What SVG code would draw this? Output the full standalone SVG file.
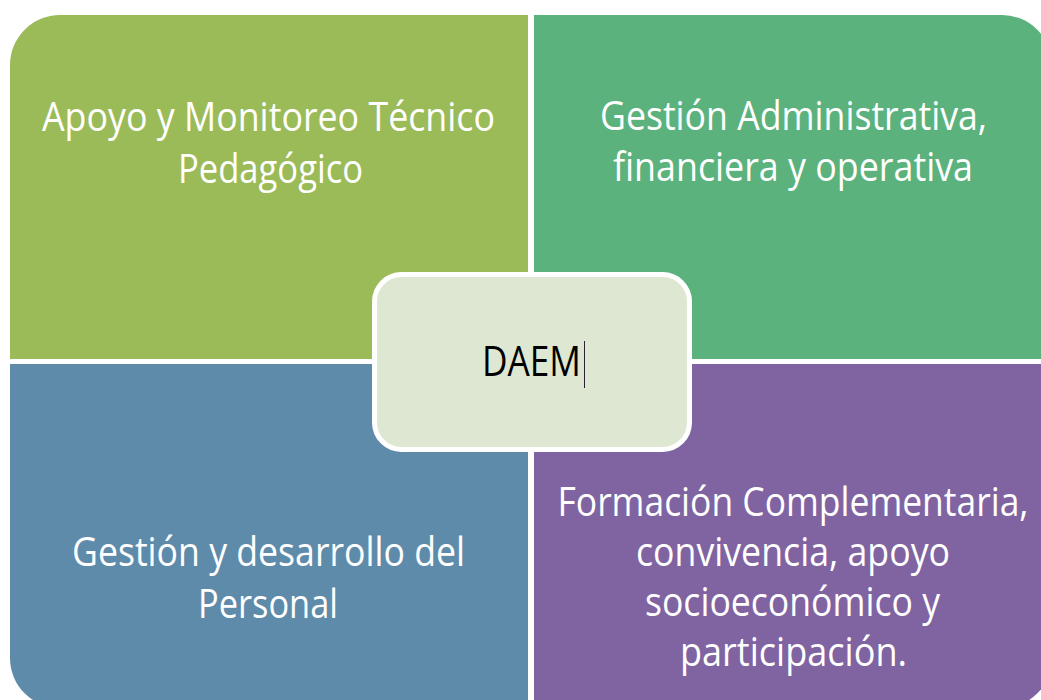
<svg xmlns="http://www.w3.org/2000/svg" width="1041" height="700" viewBox="0 0 1041 700">
  <style>
    .q { stroke: none; }
    .lbl { font-family: "Open Sans", "Noto Sans", "Liberation Sans", sans-serif; font-size: 40px; fill: #ffffff; text-anchor: middle; }
    .center-lbl { font-family: "Open Sans", "Noto Sans", "Liberation Sans", sans-serif; font-size: 42px; fill: #000000; text-anchor: middle; }
  </style>
  <rect x="0" y="0" width="1041" height="700" fill="#ffffff"/>
  <g id="node-apoyo">
    <path class="q" d="M10,65 A50,50 0 0 1 60,15 H528 V359 H10 Z" fill="#9BBB59"/>
    <text class="lbl" x="268.5" y="131" textLength="453" lengthAdjust="spacingAndGlyphs">Apoyo y Monitoreo Técnico</text>
    <text class="lbl" x="270.5" y="183" textLength="185" lengthAdjust="spacingAndGlyphs">Pedagógico</text>
  </g>
  <g id="node-gestion-admin">
    <path class="q" d="M534,15 H1002 A50,50 0 0 1 1052,65 V359 H534 Z" fill="#5BB27D"/>
    <text class="lbl" x="793.5" y="130" textLength="387" lengthAdjust="spacingAndGlyphs">Gestión Administrativa,</text>
    <text class="lbl" x="793" y="181" textLength="360" lengthAdjust="spacingAndGlyphs">financiera y operativa</text>
  </g>
  <g id="node-gestion-personal">
    <path class="q" d="M10,364 H528 V708 H60 A50,50 0 0 1 10,658 Z" fill="#5F8BAB"/>
    <text class="lbl" x="268.5" y="566" textLength="393" lengthAdjust="spacingAndGlyphs">Gestión y desarrollo del</text>
    <text class="lbl" x="268" y="618" textLength="140" lengthAdjust="spacingAndGlyphs">Personal</text>
  </g>
  <g id="node-formacion">
    <path class="q" d="M534,364 H1052 V658 A50,50 0 0 1 1002,708 H534 Z" fill="#8064A2"/>
    <text class="lbl" x="793" y="516" textLength="471" lengthAdjust="spacingAndGlyphs">Formación Complementaria,</text>
    <text class="lbl" x="793" y="566" textLength="314" lengthAdjust="spacingAndGlyphs">convivencia, apoyo</text>
    <text class="lbl" x="792.5" y="616" textLength="295" lengthAdjust="spacingAndGlyphs">socioeconómico y</text>
    <text class="lbl" x="793.5" y="666" textLength="227" lengthAdjust="spacingAndGlyphs">participación.</text>
  </g>
  <g id="node-daem">
    <rect x="374.5" y="274.5" width="315" height="175" rx="27" ry="27" fill="#DEE7D1" stroke="#ffffff" stroke-width="5"/>
    <text class="center-lbl" x="531.5" y="376" textLength="99" lengthAdjust="spacingAndGlyphs">DAEM</text>
    <line x1="584.5" y1="341" x2="584.5" y2="388" stroke="#2a2233" stroke-width="1"/>
  </g>
  <g id="connectors"/>
</svg>
